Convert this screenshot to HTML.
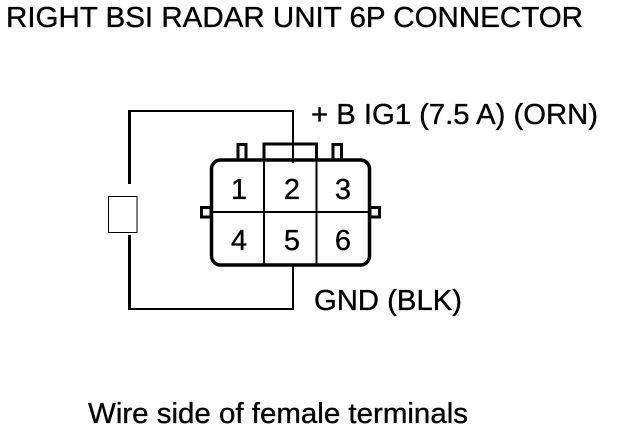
<!DOCTYPE html>
<html>
<head>
<meta charset="utf-8">
<style>
html,body{margin:0;padding:0;background:#fff;width:624px;height:432px;overflow:hidden}
svg{display:block}
text{font-family:"Liberation Sans",Arial,sans-serif;fill:#000;stroke:#000;stroke-width:.35px}
</style>
</head>
<body>
<svg width="624" height="432" viewBox="0 0 624 432" xmlns="http://www.w3.org/2000/svg">
<rect width="624" height="432" fill="#fff"/>
<text x="6" y="27" font-size="28.5" textLength="577" lengthAdjust="spacingAndGlyphs">RIGHT BSI RADAR UNIT 6P CONNECTOR</text>
<text x="311" y="124" font-size="28.5" textLength="287" lengthAdjust="spacingAndGlyphs">+ B IG1 (7.5 A) (ORN)</text>
<text x="314" y="310" font-size="28.5" textLength="148" lengthAdjust="spacingAndGlyphs">GND (BLK)</text>
<text x="88" y="423" font-size="28.5" textLength="380" lengthAdjust="spacingAndGlyphs">Wire side of female terminals</text>
<g fill="none" stroke="#000">
<path d="M129.500 184V111" stroke-width="3"/>
<path d="M129.500 235V309" stroke-width="3"/>
<path d="M128 111H293V163" stroke-width="2"/>
<path d="M128 309H293V266" stroke-width="2"/>
<rect x="108.500" y="196.500" width="28.500" height="36" stroke-width="1"/>
<path d="M238 159V144.500H246V159M333 159V144.500H341.500V159" stroke-width="3"/>
<path d="M264 159V144H316.500V159" stroke-width="3"/>
<rect x="201.500" y="207.500" width="9.500" height="9.500" stroke-width="3"/>
<rect x="370" y="207.500" width="9.500" height="9.500" stroke-width="3"/>
<rect x="211.500" y="160" width="158" height="105" rx="9" fill="#fff" stroke-width="3.500"/>
<path d="M264 160V265M316.500 160V265M211 212H370" stroke-width="2"/>
<path d="M293 143V163" stroke-width="2"/>
</g>
<g font-size="29" text-anchor="middle">
<text x="239" y="199">1</text>
<text x="292" y="199">2</text>
<text x="343" y="199">3</text>
<text x="239" y="250">4</text>
<text x="292" y="250">5</text>
<text x="343" y="250">6</text>
</g>
</svg>
</body>
</html>
